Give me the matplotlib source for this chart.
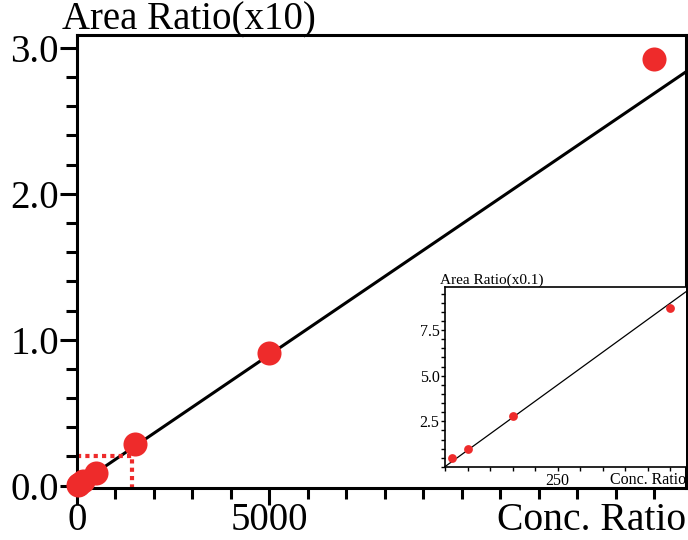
import numpy as np
import matplotlib
matplotlib.use('Agg')
import matplotlib.pyplot as plt
from matplotlib.ticker import MultipleLocator

plt.rcParams['font.family'] = ['Liberation Serif', 'DejaVu Serif']

# calibration data (actual area ratios)
conc = [15, 50, 150, 500, 1500, 5000, 15000]
area = [0.047, 0.096, 0.279, 0.872, 2.85, 9.09, 29.25]
inset_conc = conc[:4]
inset_area = area[:4]

# fitted calibration line
slope = 0.001793
intercept = 0.002

# sample read-off (dotted guide)
sample_conc = 1428
sample_area = 2.05

red = '#ee2b2b'

fig = plt.figure(figsize=(6.88, 5.4), dpi=100)
ax = fig.add_axes([0.1119, 0.0963, 0.8851, 0.8389])

x_fit = np.array([0, 15818])
ax.plot(x_fit, (slope * x_fit + intercept) / 10, color='black', lw=2.2, zorder=2)
ax.scatter(conc, np.array(area) / 10, s=300, color=red, zorder=3, clip_on=False, linewidths=0)
ax.plot([0, sample_conc, sample_conc], [sample_area / 10, sample_area / 10, -0.02],
        color=red, lw=3, linestyle=(0, (1, 1)), zorder=2, clip_on=False)

ax.set_xlim(0, 15818)
ax.set_ylim(-0.017, 3.089)
ax.xaxis.set_major_locator(MultipleLocator(5000))
ax.xaxis.set_minor_locator(MultipleLocator(1000))
ax.yaxis.set_major_locator(MultipleLocator(1.0))
ax.yaxis.set_minor_locator(MultipleLocator(0.2))
ax.set_xticks([0, 5000])
ax.set_xticklabels(['0', '5000'])
ax.set_yticks([0, 1, 2, 3])
ax.set_yticklabels(['0.0', '1.0', '2.0', '3.0'])
ax.tick_params(which='major', length=12, width=2.2, labelsize=28)
ax.tick_params(axis='y', which='major', pad=1)
ax.tick_params(axis='x', which='major', pad=-2)
ax.tick_params(which='minor', length=8, width=2.2)
for s in ax.spines.values():
    s.set_linewidth(2.2)

fig.text(0.09, 0.963, 'Area Ratio(x10)', fontsize=28, ha='left', va='center')
fig.text(0.997, 0.036, 'Conc. Ratio', fontsize=28.5, ha='right', va='center')

# inset
ins = fig.add_axes([0.6468, 0.1352, 0.350, 0.3333])
xi = np.array([0, 534])
ins.plot(xi, (slope * xi + intercept) * 10, color='black', lw=0.9, zorder=2)
ins.scatter(inset_conc, np.array(inset_area) * 10, s=40, color=red, zorder=3, linewidths=0)
ins.set_xlim(0, 534)
ins.set_ylim(0, 9.86)
ins.set_xticks([250, 500])
ins.set_xticklabels(['250', ''])
ins.xaxis.set_minor_locator(MultipleLocator(50))
ins.set_yticks([2.5, 5.0, 7.5])
ins.set_yticklabels(['2.5', '5.0', '7.5'])
ins.yaxis.set_minor_locator(MultipleLocator(0.5))
ins.tick_params(which='both', length=3, width=1, labelsize=11.5, pad=1)
for s in ins.spines.values():
    s.set_linewidth(1.2)
ins.spines['right'].set_visible(False)
ins.text(-0.02, 1.0, 'Area Ratio(x0.1)', transform=ins.transAxes, fontsize=11,
         ha='left', va='bottom')
ins.text(1.0, -0.07, 'Conc. Ratio', transform=ins.transAxes, fontsize=11.5,
         ha='right', va='center')

fig.savefig('out.png', dpi=100)
